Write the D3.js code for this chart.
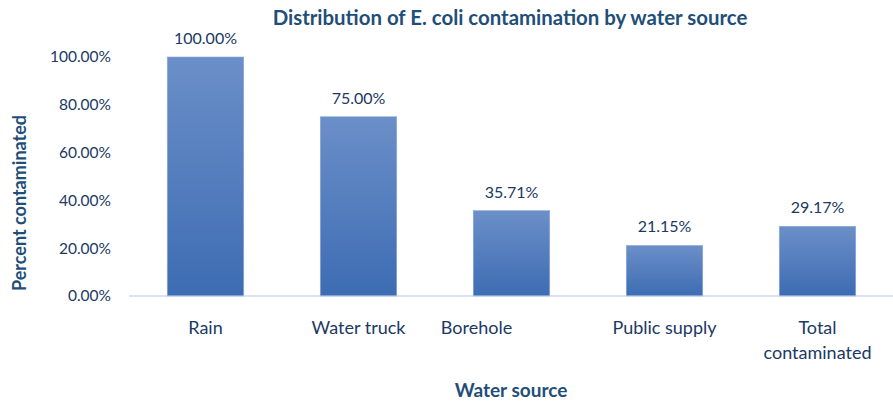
<!DOCTYPE html>
<html>
<head>
<meta charset="utf-8">
<script src="https://cdn.jsdelivr.net/npm/d3@7"></script>
<style>
  body { margin: 0; background: #fff; }
  text { font-family: Lato, "Open Sans", sans-serif; }
</style>
</head>
<body>
<div id="chart"></div>
<script>
// chart data
const sources = ["Rain", "Water truck", "Borehole", "Public supply", "Total contaminated"];
const percents = [100.00, 75.00, 35.71, 21.15, 29.17];
const yTicks = [0, 20, 40, 60, 80, 100];

const W = 893, H = 404;
const margin = { top: 57, right: -1, bottom: 108, left: 129 };
const width = W - margin.left - margin.right,
      height = H - margin.top - margin.bottom;

const svg = d3.select("#chart").append("svg")
    .attr("width", W)
    .attr("height", H);

// bar gradient, light at top
const grad = svg.append("defs").append("linearGradient")
    .attr("id", "barGrad")
    .attr("x1", 0).attr("y1", 0).attr("x2", 0).attr("y2", 1);
grad.append("stop").attr("offset", "0%").attr("stop-color", "#6b8fc8");
grad.append("stop").attr("offset", "100%").attr("stop-color", "#3d6cb3");

const g = svg.append("g")
    .attr("transform", `translate(${margin.left},${margin.top})`);

const x = d3.scaleBand()
    .domain(sources)
    .range([0, width])
    .paddingInner(0.5)
    .paddingOuter(0.25);

const y = d3.scaleLinear()
    .domain([0, 100])
    .range([height, 0]);

// y axis (labels only)
const yAxis = g.append("g")
    .call(d3.axisLeft(y).tickValues(yTicks).tickSize(0).tickPadding(18)
        .tickFormat(d => d.toFixed(2) + "%"));
yAxis.select(".domain").remove();
yAxis.selectAll("text")
    .style("font-size", "15.5px")
    .attr("fill", "#203864");

// bars
g.selectAll(".bar")
    .data(percents)
    .enter().append("rect")
    .attr("class", "bar")
    .attr("x", (d, i) => x(sources[i]))
    .attr("y", d => y(d))
    .attr("width", x.bandwidth())
    .attr("height", d => height - y(d))
    .attr("fill", "url(#barGrad)")
    .attr("stroke", "#8eaadb")
    .attr("stroke-width", 0.6);

// baseline
g.append("line")
    .attr("x1", 0).attr("x2", width)
    .attr("y1", height).attr("y2", height)
    .attr("stroke", "#b4c7e7")
    .attr("stroke-width", 1.2);

// value labels
g.selectAll(".val")
    .data(percents)
    .enter().append("text")
    .attr("class", "val")
    .attr("x", (d, i) => x(sources[i]) + x.bandwidth() / 2)
    .attr("y", d => y(d) - 13)
    .attr("text-anchor", "middle")
    .style("font-size", "16px")
    .attr("fill", "#203864")
    .text(d => d.toFixed(2) + "%");

// category labels (Borehole sits a bit left of its bar in the original)
const cat = g.selectAll(".cat")
    .data(sources)
    .enter().append("text")
    .attr("class", "cat")
    .attr("x", d => x(d) + x.bandwidth() / 2 + (d === "Borehole" ? -35 : 0))
    .attr("y", height + 38)
    .attr("text-anchor", "middle")
    .style("font-size", "18px")
    .attr("fill", "#203864");
cat.each(function(d) {
    const words = d === "Total contaminated" ? ["Total", "contaminated"] : [d];
    const t = d3.select(this);
    words.forEach((w, i) => {
        t.append("tspan")
            .attr("x", t.attr("x"))
            .attr("dy", i === 0 ? 0 : 25)
            .text(w);
    });
});

// title
svg.append("text")
    .attr("x", 510)
    .attr("y", 25)
    .attr("text-anchor", "middle")
    .style("font-size", "20.4px")
    .style("font-weight", "bold")
    .attr("fill", "#1f4e79")
    .text("Distribution of E. coli contamination by water source");

// axis titles
svg.append("text")
    .attr("x", 511)
    .attr("y", 397)
    .attr("text-anchor", "middle")
    .style("font-size", "19px")
    .style("font-weight", "bold")
    .attr("fill", "#1f4e79")
    .text("Water source");

svg.append("text")
    .attr("transform", "rotate(-90)")
    .attr("x", -203)
    .attr("y", 26)
    .attr("text-anchor", "middle")
    .style("font-size", "18px")
    .style("font-weight", "bold")
    .attr("fill", "#1f4e79")
    .text("Percent contaminated");
</script>
</body>
</html>
